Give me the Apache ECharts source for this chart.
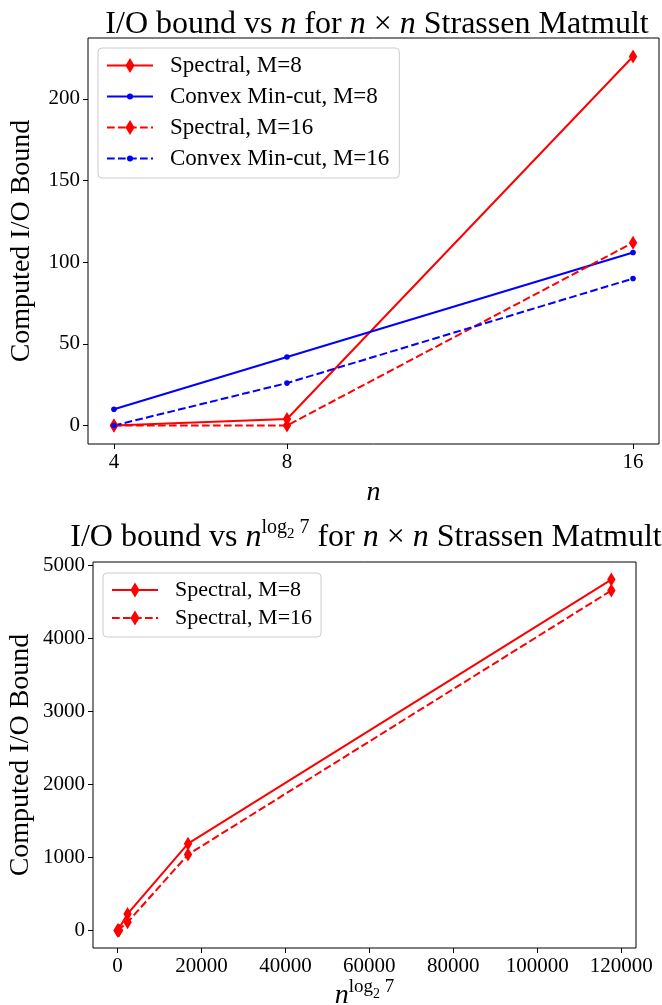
<!DOCTYPE html>
<html><head><meta charset="utf-8">
<script src="https://cdn.jsdelivr.net/npm/echarts@6/dist/echarts.min.js"></script>
<style>html,body{margin:0;padding:0;background:#fff}#c{width:662px;height:1005px}</style>
</head><body><div id="c"></div>
<script>
// ---- data ----
const nValues = [4, 8, 16];
const spectralM8 = [0, 4, 226];
const convexM8 = [10, 42, 106];
const spectralM16 = [0, 0, 112];
const convexM16 = [0, 26, 90];
const nPowValues = [49, 343, 2401, 16807, 117649];
const spectralPowM8 = [0, 4, 226, 1190, 4810];
const spectralPowM16 = [0, 0, 112, 1040, 4660];
const topXTicks = [4, 8, 16];
const topYTicks = [0, 50, 100, 150, 200];
const botXTicks = [0, 20000, 40000, 60000, 80000, 100000, 120000];
const botYTicks = [0, 1000, 2000, 3000, 4000, 5000];
const legendTop = ['Spectral, M=8', 'Convex Min-cut, M=8', 'Spectral, M=16', 'Convex Min-cut, M=16'];
const legendBottom = ['Spectral, M=8', 'Spectral, M=16'];

// ---- helpers ----
const FONT = 'Liberation Serif';
const RED = '#ff0000', BLUE = '#0000ff';
const DIAMOND = 'path://M-1,-1M1,1M0,-1L0.6,0L0,1L-0.6,0Z';
const DOT = 'path://M-1,-1M1,1M0.4,0A0.4,0.4,0,1,1,-0.4,0A0.4,0.4,0,1,1,0.4,0Z';
const DASH = [7.7, 3.3];
function pad(arr) { const mn = Math.min(...arr), mx = Math.max(...arr), m = (mx - mn) * 0.05; return [mn - m, mx + m]; }
const zip = (xs, ys) => xs.map((x, i) => [x, ys[i]]);
const topXR = pad(nValues);
const topYR = pad([].concat(spectralM8, convexM8, spectralM16, convexM16));
const botXR = pad(nPowValues);
const botYR = pad([].concat(spectralPowM8, spectralPowM16));

function valueAxis(idx, range, ticks, extra) {
  return Object.assign({
    type: 'value', gridIndex: idx, min: range[0], max: range[1], scale: true,
    axisLine: { show: false, onZero: false },
    splitLine: { show: false },
    nameMoveOverlap: false,
    axisTick: { show: true, inside: false, length: 5, customValues: ticks, lineStyle: { color: '#000', width: 1 } },
    axisLabel: { show: true, customValues: ticks, color: '#000', fontFamily: FONT, fontSize: 21, margin: 8,
      formatter: v => String(Math.round(v)) },
    nameTextStyle: { color: '#000', fontFamily: FONT }
  }, extra || {});
}
function mkSeries(name, xs, ys, color, dashed, sym, axisIdx) {
  return {
    name, type: 'line', xAxisIndex: axisIdx, yAxisIndex: axisIdx,
    data: zip(xs, ys), symbol: sym, symbolSize: 14, showSymbol: true,
    lineStyle: { color, width: 2, type: dashed ? DASH : 'solid' },
    itemStyle: { color, borderWidth: 0 },
    emphasis: { disabled: true }, animation: false, clip: false
  };
}
const base = { fontFamily: FONT, color: '#000', fontWeight: 'normal', verticalAlign: 'bottom' };
const supRich = {
  r: Object.assign({}, base, { fontSize: 32, lineHeight: 32 }),
  i: Object.assign({}, base, { fontSize: 32, lineHeight: 32, fontStyle: 'italic' }),
  sup: Object.assign({}, base, { fontSize: 20, lineHeight: 20, padding: [0, 0, 16, 0] }),
  sub: Object.assign({}, base, { fontSize: 15, lineHeight: 15, padding: [0, 0, 12, 0] })
};
const legendCommon = {
  orient: 'vertical', itemWidth: 46, itemHeight: 19,
  borderColor: '#cccccc', borderWidth: 1, borderRadius: 4, backgroundColor: 'rgba(255,255,255,0.8)',
  selectedMode: false, inactiveColor: '#ccc'
};

const chart = echarts.init(document.getElementById('c'), null, { renderer: 'canvas' });
chart.setOption({
  animation: false,
  backgroundColor: '#fff',
  title: [
    { text: '{r|I/O bound vs }{i|n}{r| for }{i|n}{r| × }{i|n}{r| Strassen Matmult}', left: 372, top: 4, textAlign: 'center',
      textStyle: { fontWeight: 'normal', rich: supRich } },
    { text: '{r|I/O bound vs }{i|n}{sup|log}{sub|2}{sup| 7}{r| for }{i|n}{r| × }{i|n}{r| Strassen Matmult}', left: 361, top: 517, textAlign: 'center',
      textStyle: { fontWeight: 'normal', rich: supRich } }
  ],
  legend: [
    Object.assign({}, legendCommon, { data: legendTop, left: 98, top: 48, itemGap: 8, padding: [6, 10, 8, 8],
      textStyle: { color: '#000', fontFamily: FONT, fontSize: 23, lineHeight: 23, padding: [0, 0, 0, 12] } }),
    Object.assign({}, legendCommon, { data: legendBottom, left: 103, top: 573, itemGap: 6, padding: [6, 9, 8, 8],
      textStyle: { color: '#000', fontFamily: FONT, fontSize: 22, lineHeight: 22, padding: [0, 0, 0, 12] } })
  ],
  grid: [
    { left: 88, top: 38, width: 571, height: 406, show: true, borderColor: '#000', borderWidth: 1, backgroundColor: 'transparent', outerBoundsMode: 'none' },
    { left: 93, top: 562, width: 543, height: 386, show: true, borderColor: '#000', borderWidth: 1, backgroundColor: 'transparent', outerBoundsMode: 'none' }
  ],
  xAxis: [
    valueAxis(0, topXR, topXTicks, { name: '{i|n}', nameLocation: 'middle', nameGap: 35,
      nameTextStyle: { rich: { i: { fontFamily: FONT, fontSize: 28, fontStyle: 'italic', color: '#000' } } } }),
    valueAxis(1, botXR, botXTicks, { name: '{i|n}{sup|log}{sub|2}{sup| 7}', nameLocation: 'middle', nameGap: 34,
      nameTextStyle: { rich: {
        i: Object.assign({}, base, { fontSize: 28, fontStyle: 'italic', lineHeight: 28 }),
        sup: Object.assign({}, base, { fontSize: 19, lineHeight: 19, padding: [0, 0, 13, 0] }),
        sub: Object.assign({}, base, { fontSize: 14, lineHeight: 14, padding: [0, 0, 9, 0] })
      } } })
  ],
  yAxis: [
    valueAxis(0, topYR, topYTicks, { name: 'Computed I/O Bound', nameLocation: 'middle', nameGap: 52, nameRotate: 90,
      nameTextStyle: { color: '#000', fontFamily: FONT, fontSize: 28 } }),
    valueAxis(1, botYR, botYTicks, { name: 'Computed I/O Bound', nameLocation: 'middle', nameGap: 58, nameRotate: 90,
      nameTextStyle: { color: '#000', fontFamily: FONT, fontSize: 28 } })
  ],
  series: [
    mkSeries('Spectral, M=8', nValues, spectralM8, RED, false, DIAMOND, 0),
    mkSeries('Convex Min-cut, M=8', nValues, convexM8, BLUE, false, DOT, 0),
    mkSeries('Spectral, M=16', nValues, spectralM16, RED, true, DIAMOND, 0),
    mkSeries('Convex Min-cut, M=16', nValues, convexM16, BLUE, true, DOT, 0),
    mkSeries('Spectral, M=8', nPowValues, spectralPowM8, RED, false, DIAMOND, 1),
    mkSeries('Spectral, M=16', nPowValues, spectralPowM16, RED, true, DIAMOND, 1)
  ]
});
</script>
</body></html>
